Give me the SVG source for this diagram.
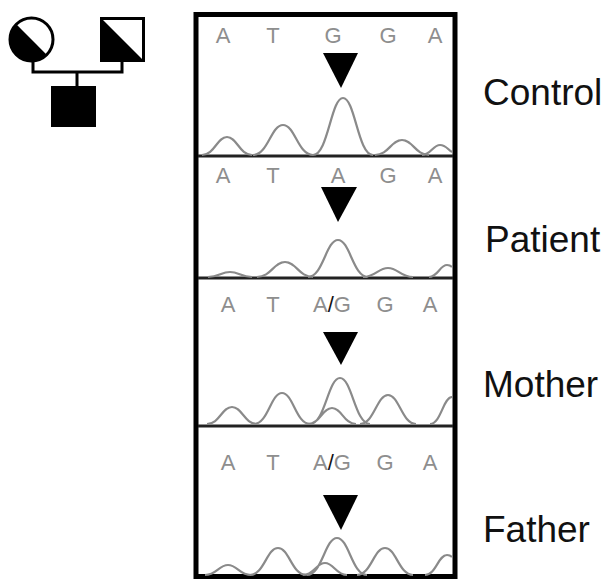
<svg xmlns="http://www.w3.org/2000/svg" width="605" height="580" viewBox="0 0 605 580">
<style>
.base{font-family:"Liberation Sans",Arial,sans-serif;font-size:22px;fill:#8e8e8e;text-anchor:middle}
.lbl{font-family:"Liberation Sans",Arial,sans-serif;font-size:37px;fill:#111}
.trace{fill:none;stroke:#8a8a8a;stroke-width:2.2}
.div{stroke:#222;stroke-width:3}
.ped{stroke:#000;stroke-width:3;fill:none}
</style>
<rect width="605" height="580" fill="#fff"/>
<g id="pedigree">
  <g id="mother-symbol">
    <circle cx="31.5" cy="39.5" r="21.5" fill="#fff" stroke="#000" stroke-width="3"/>
    <path d="M16.3 24.3 A21.5 21.5 0 0 0 46.7 54.7 Z" fill="#000"/>
  </g>
  <g id="father-symbol">
    <rect x="101.5" y="18.5" width="42" height="42" fill="#fff" stroke="#000" stroke-width="3"/>
    <path d="M101.5 18.5 L101.5 60.5 L143.5 60.5 Z" fill="#000"/>
  </g>
  <g id="patient-symbol">
    <rect x="51" y="86" width="45" height="41" fill="#000"/>
  </g>
  <g id="pedigree-lines" class="ped">
    <path d="M33 61 V72 H122 V60"/>
    <path d="M77 72 V86"/>
  </g>
</g>
<g id="chromatogram">
  <rect x="196" y="14.5" width="259" height="562" fill="none" stroke="#000" stroke-width="5"/>
  <g id="dividers">
    <line class="div" x1="198" y1="156" x2="453" y2="156"/>
    <line class="div" x1="198" y1="278" x2="453" y2="278"/>
    <line class="div" x1="198" y1="426" x2="453" y2="426"/>
  </g>
  <g id="row-control">
    <text class="base" x="223" y="43">A</text>
    <text class="base" x="273" y="43">T</text>
    <text class="base" x="333" y="43">G</text>
    <text class="base" x="388" y="43">G</text>
    <text class="base" x="435" y="43">A</text>
    <path d="M323 53 H358 L341 88 Z" fill="#000"/>
    <path class="trace" d="M202 155 C214.5 155 217 137 227 137 C237 137 239.5 155 252 155 M253 155 C268 155 271 125 283 125 C295 125 298 155 313 155 M313 155 C328 155 331 98 343 98 C355 98 358 155 373 155 M375 155 C388.5 155 391.2 140 402 140 C412.8 140 415.5 155 429 155 M422 155 C431 155 432.8 145 440 145 C446 145 448 150 452 152"/>
  </g>
  <g id="row-patient">
    <text class="base" x="223" y="183">A</text>
    <text class="base" x="273" y="183">T</text>
    <text class="base" x="338" y="183">A</text>
    <text class="base" x="388" y="183">G</text>
    <text class="base" x="435" y="183">A</text>
    <path d="M321 187 H357 L338 222 Z" fill="#000"/>
    <path class="trace" d="M208 277 C219 277 221.2 272 230 272 C238.8 272 241 277 252 277 M257 277 C271 277 273.8 262 285 262 C296.2 262 299 277 313 277 M308 277 C323 277 326 240 338 240 C350 240 353 277 368 277 M363 277 C375.5 277 378 268 388 268 C398 268 400.5 277 413 277 M429 277 C438 277 439.8 265 447 265 C449 265 451 266 452 267"/>
  </g>
  <g id="row-mother">
    <text class="base" x="228" y="312">A</text>
    <text class="base" x="273" y="312">T</text>
    <text class="base" x="332" y="312">A<tspan fill="#111">/</tspan>G</text>
    <text class="base" x="385" y="312">G</text>
    <text class="base" x="430" y="312">A</text>
    <path d="M323 332 H358 L341 365 Z" fill="#000"/>
    <path class="trace" d="M207 424 C219.5 424 222 407 232 407 C242 407 244.5 424 257 424 M254 424 C268 424 270.8 393 282 393 C293.2 393 296 424 310 424 M310 424 C325 424 328 378 340 378 C352 378 355 424 370 424 M308 424 C320 424 322.4 408 332 408 C341.6 408 344 424 356 424 M360 424 C374 424 376.8 395 388 395 C399.2 395 402 424 416 424 M430 424 C441 424 443.2 397 452 397"/>
  </g>
  <g id="row-father">
    <text class="base" x="228" y="470">A</text>
    <text class="base" x="273" y="470">T</text>
    <text class="base" x="332" y="470">A<tspan fill="#111">/</tspan>G</text>
    <text class="base" x="385" y="470">G</text>
    <text class="base" x="430" y="470">A</text>
    <path d="M323 495 H358 L341 530 Z" fill="#000"/>
    <path class="trace" d="M205 575 C216.5 575 218.8 565 228 565 C237.2 565 239.5 575 251 575 M250 575 C264 575 266.8 548 278 548 C289.2 548 292 575 306 575 M307 575 C322 575 325 538 337 538 C349 538 352 575 367 575 M303 575 C314 575 316.2 563 325 563 C333.8 563 336 575 347 575 M357 575 C371 575 373.8 548 385 548 C396.2 548 399 575 413 575 M425 575 C436 575 438.2 555 447 555 C449 555 451 556 452 557"/>
  </g>
</g>
<g id="labels">
  <text class="lbl" x="483" y="105">Control</text>
  <text class="lbl" x="485" y="252">Patient</text>
  <text class="lbl" x="483" y="397">Mother</text>
  <text class="lbl" x="483" y="542">Father</text>
</g>
</svg>
